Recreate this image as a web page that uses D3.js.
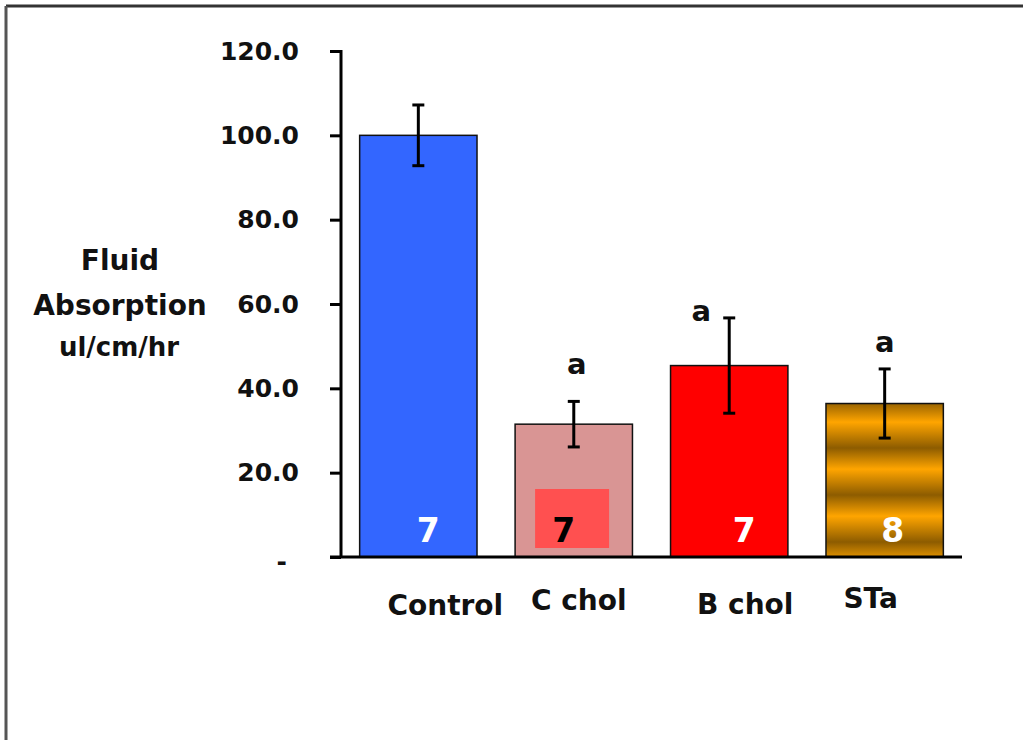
<!DOCTYPE html>
<html>
<head>
<meta charset="utf-8">
<script src="https://cdn.jsdelivr.net/npm/d3@7"></script>
<style>
  body { margin: 0; background: #fff; }
  text { font-family: "DejaVu Sans", sans-serif; font-weight: bold; }
</style>
</head>
<body>
<div id="chart"></div>
<script>
// --- Fluid absorption by treatment ---
const groups = ["Control", "C chol", "B chol", "STa"];
const means = [100.0, 31.5, 45.4, 36.4];
const errors = [7.2, 5.4, 11.3, 8.2];
const nCounts = ["7", "7", "7", "8"];
const sigLetters = ["", "a", "a", "a"];
const yTicks = [0, 20, 40, 60, 80, 100, 120];

const fills = ["#3366ff", "#d99594", "#ff0000", "url(#gold)"];
const labelDx = [27, 5, 16, -14];   // category labels sit a bit off-centre
const labelY = [615, 610, 614, 608];
const nDx = [10, -10, 15, 8];
const nColor = ["#fff", "#000", "#fff", "#fff"];
const letterDx = [0, 3, -28, 0];
const letterDy = [0, -27, 3, -17];

const W = 1023, H = 740;
const svg = d3.select("#chart").append("svg")
    .attr("width", W)
    .attr("height", H);

const defs = svg.append("defs");
const grad = defs.append("linearGradient")
    .attr("id", "gold")
    .attr("gradientUnits", "userSpaceOnUse")
    .attr("x1", 0).attr("x2", 0)
    .attr("y1", 401).attr("y2", 448)
    .attr("spreadMethod", "repeat");
grad.append("stop").attr("offset", "0%").attr("stop-color", "#8d5c00");
grad.append("stop").attr("offset", "45%").attr("stop-color", "#ffa500");
grad.append("stop").attr("offset", "100%").attr("stop-color", "#8d5c00");

// frame
svg.append("line").attr("x1", 6).attr("x2", W).attr("y1", 6).attr("y2", 6)
    .attr("stroke", "#333").attr("stroke-width", 3);
svg.append("line").attr("x1", 6).attr("x2", 6).attr("y1", 6).attr("y2", H)
    .attr("stroke", "#555").attr("stroke-width", 3);

const x = d3.scaleBand().domain(groups).range([341, 962]).paddingInner(0.245).paddingOuter(0.12);
const y = d3.scaleLinear().domain([0, 120]).range([557, 51]);

// bars
svg.selectAll(".bar")
    .data(groups)
    .enter()
    .append("rect")
    .attr("class", "bar")
    .attr("x", d => x(d))
    .attr("y", (d, i) => y(means[i]))
    .attr("width", x.bandwidth())
    .attr("height", (d, i) => y(0) - y(means[i]))
    .attr("fill", (d, i) => fills[i])
    .attr("stroke", "#111")
    .attr("stroke-width", 1.5);

// error bars
groups.forEach((g, i) => {
    const cx = x(g) + x.bandwidth() / 2;
    const top = y(means[i] + errors[i]), bot = y(means[i] - errors[i]);
    svg.append("line").attr("x1", cx).attr("x2", cx).attr("y1", top).attr("y2", bot)
        .attr("stroke", "#000").attr("stroke-width", 3);
    [top, bot].forEach(v => {
        svg.append("line").attr("x1", cx - 6).attr("x2", cx + 6).attr("y1", v).attr("y2", v)
            .attr("stroke", "#000").attr("stroke-width", 3);
    });
    if (sigLetters[i]) {
        svg.append("text")
            .attr("x", cx + letterDx[i])
            .attr("y", top + letterDy[i])
            .attr("text-anchor", "middle")
            .attr("font-size", 29)
            .attr("fill", "#111")
            .text(sigLetters[i]);
    }
});

// n boxes
const cBand = x("C chol");
svg.append("rect")
    .attr("x", cBand + 20).attr("y", 489)
    .attr("width", 74).attr("height", 59)
    .attr("fill", "#ff5050");

svg.selectAll(".ncount")
    .data(groups)
    .enter()
    .append("text")
    .attr("class", "ncount")
    .attr("x", (d, i) => x(d) + x.bandwidth() / 2 + nDx[i])
    .attr("y", 542)
    .attr("text-anchor", "middle")
    .attr("font-family", "Open Sans")
    .attr("font-size", 33)
    .attr("fill", (d, i) => nColor[i])
    .text((d, i) => nCounts[i]);

// y axis
const yAxis = svg.append("g")
    .attr("transform", "translate(341,0)")
    .call(d3.axisLeft(y).tickValues(yTicks).tickSize(11).tickPadding(31)
        .tickFormat(d => d === 0 ? "-" : d.toFixed(1)));
yAxis.select(".domain").attr("stroke", "#000").attr("stroke-width", 3)
    .attr("d", `M0,${y(120) - 1}V${y(0)}`);
yAxis.selectAll(".tick line").attr("stroke", "#000").attr("stroke-width", 3);
yAxis.selectAll(".tick text").attr("font-size", 25).attr("font-family", "DejaVu Sans")
    .attr("font-weight", "bold").attr("fill", "#111");
yAxis.selectAll(".tick").filter(d => d === 0).select("text").attr("dx", -12).attr("dy", "0.5em");

// x axis line
svg.append("line").attr("x1", 330).attr("x2", 962).attr("y1", y(0)).attr("y2", y(0))
    .attr("stroke", "#000").attr("stroke-width", 3);

// category labels
svg.selectAll(".cat")
    .data(groups)
    .enter()
    .append("text")
    .attr("class", "cat")
    .attr("x", (d, i) => x(d) + x.bandwidth() / 2 + labelDx[i])
    .attr("y", (d, i) => labelY[i])
    .attr("text-anchor", "middle")
    .attr("font-size", 28)
    .attr("fill", "#111")
    .text(d => d);

// y title
const title = [["Fluid", 270, 28, 120], ["Absorption", 315, 28, 120], ["ul/cm/hr", 356, 26, 119]];
title.forEach(t => {
    svg.append("text")
        .attr("x", t[3]).attr("y", t[1])
        .attr("text-anchor", "middle")
        .attr("font-size", t[2])
        .attr("fill", "#111")
        .text(t[0]);
});
</script>
</body>
</html>
